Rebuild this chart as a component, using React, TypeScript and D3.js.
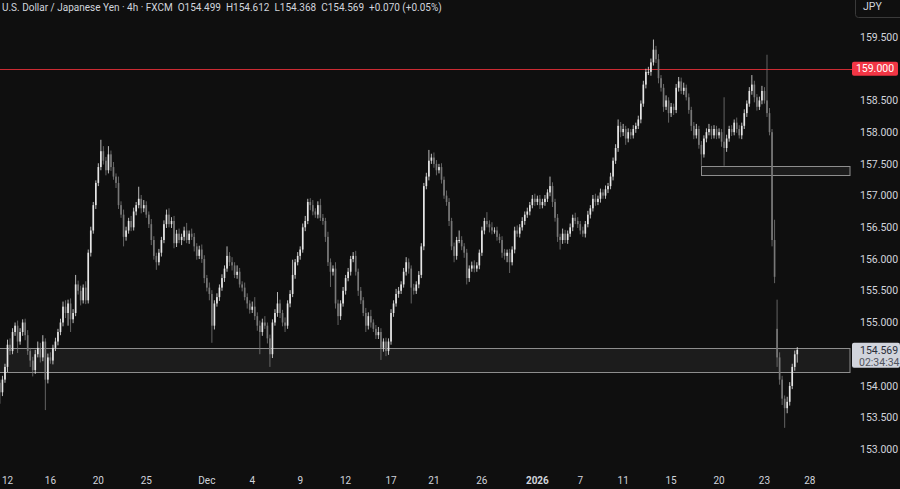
import React, { useEffect, useRef } from 'react';
import * as d3 from 'd3';

// USD/JPY 4h candles (open = previous close unless gapped)
const firstOpen = 154.05;
const gapOpens: Record<number, number> = { 308: 154.9 };

const closes = [
  153.90, 154.10, 154.30, 154.65, 154.55, 154.85, 154.95, 154.70, 154.85, 155.00,
  154.80, 154.55, 154.40, 154.25, 154.50, 154.60, 154.45, 154.70, 154.10, 154.45,
  154.40, 154.60, 154.70, 154.85, 155.00, 155.25, 155.15, 155.30, 155.05, 155.15,
  155.60, 155.50, 155.35, 155.55, 155.35, 156.10, 156.45, 156.85, 157.20, 157.45,
  157.70, 157.55, 157.40, 157.65, 157.45, 157.30, 157.20, 156.85, 156.70, 156.35,
  156.45, 156.60, 156.50, 156.75, 156.85, 156.95, 156.80, 156.85, 156.70, 156.55,
  156.30, 156.05, 155.95, 156.10, 156.30, 156.55, 156.70, 156.55, 156.60, 156.25,
  156.40, 156.30, 156.35, 156.45, 156.30, 156.40, 156.35, 156.20, 156.05, 156.15,
  156.00, 155.70, 155.55, 155.45, 154.95, 155.30, 155.40, 155.55, 155.70, 155.85,
  156.05, 155.95, 155.90, 155.75, 155.80, 155.60, 155.55, 155.40, 155.30, 155.20,
  155.25, 155.10, 154.95, 154.85, 155.00, 154.95, 154.75, 154.50, 155.00, 155.15,
  155.30, 155.15, 155.00, 154.95, 155.30, 155.45, 155.75, 155.95, 156.05, 156.15,
  156.50, 156.60, 156.90, 156.85, 156.75, 156.70, 156.85, 156.65, 156.60, 156.35,
  155.95, 155.80, 155.85, 155.30, 155.10, 155.30, 155.50, 155.70, 155.80, 156.00,
  156.05, 155.80, 155.50, 155.35, 155.15, 154.95, 155.10, 155.00, 154.90, 154.80,
  154.85, 154.60, 154.70, 154.55, 154.70, 155.15, 155.30, 155.45, 155.50, 155.60,
  155.80, 155.95, 155.85, 155.55, 155.50, 155.60, 155.75, 156.20, 157.15, 157.30,
  157.55, 157.60, 157.50, 157.40, 157.45, 157.25, 157.00, 156.90, 156.60, 156.20,
  156.05, 156.30, 156.30, 156.20, 156.10, 155.70, 155.85, 155.90, 155.85, 155.90,
  156.10, 156.45, 156.60, 156.55, 156.50, 156.45, 156.45, 156.35, 156.30, 156.10,
  156.05, 156.10, 155.95, 156.15, 156.45, 156.40, 156.50, 156.60, 156.70, 156.75,
  156.85, 156.95, 156.90, 156.95, 156.85, 156.90, 156.95, 157.05, 157.15, 156.90,
  156.65, 156.35, 156.30, 156.40, 156.30, 156.40, 156.50, 156.65, 156.60, 156.55,
  156.45, 156.40, 156.55, 156.70, 156.80, 156.95, 156.90, 156.95, 157.05, 157.00,
  157.10, 157.15, 157.30, 157.55, 157.75, 158.10, 158.00, 158.05, 157.90, 158.00,
  157.95, 158.05, 158.10, 158.20, 158.45, 158.75, 158.95, 158.95, 159.10, 159.30,
  159.15, 158.85, 158.70, 158.40, 158.50, 158.30, 158.40, 158.35, 158.70, 158.80,
  158.65, 158.70, 158.55, 158.35, 158.10, 157.95, 158.05, 157.80, 157.65, 157.90,
  158.00, 158.05, 157.95, 158.05, 157.95, 158.00, 157.85, 157.75, 157.90, 158.05,
  158.00, 158.15, 158.05, 157.95, 158.10, 158.30, 158.45, 158.65, 158.75, 158.55,
  158.40, 158.50, 158.65, 158.50, 158.30, 158.00, 156.30, 155.72, 154.45, 154.10,
  153.80, 153.65, 153.75, 154.00, 154.30, 154.499, 154.569,
];

// wick lengths above / below the body
const upperWicks = [
  0.05, 0.06, 0.05, 0.08, 0.10, 0.06, 0.05, 0.08, 0.06, 0.05,
  0.06, 0.08, 0.05, 0.06, 0.07, 0.10, 0.08, 0.10, 0.05, 0.06,
  0.08, 0.05, 0.06, 0.05, 0.06, 0.08, 0.10, 0.06, 0.08, 0.06,
  0.15, 0.06, 0.08, 0.05, 0.10, 0.05, 0.06, 0.05, 0.04, 0.06,
  0.18, 0.08, 0.06, 0.13, 0.06, 0.08, 0.05, 0.10, 0.06, 0.08,
  0.06, 0.05, 0.08, 0.06, 0.05, 0.19, 0.06, 0.08, 0.06, 0.05,
  0.08, 0.06, 0.05, 0.06, 0.05, 0.06, 0.08, 0.10, 0.06, 0.08,
  0.06, 0.08, 0.05, 0.06, 0.12, 0.05, 0.08, 0.06, 0.05, 0.06,
  0.08, 0.06, 0.05, 0.08, 0.06, 0.05, 0.06, 0.05, 0.06, 0.05,
  0.15, 0.06, 0.08, 0.05, 0.10, 0.06, 0.05, 0.08, 0.06, 0.05,
  0.08, 0.15, 0.06, 0.08, 0.06, 0.10, 0.05, 0.06, 0.05, 0.06,
  0.18, 0.06, 0.05, 0.08, 0.05, 0.06, 0.24, 0.05, 0.06, 0.05,
  0.06, 0.08, 0.05, 0.06, 0.08, 0.05, 0.06, 0.10, 0.06, 0.05,
  0.08, 0.06, 0.05, 0.10, 0.06, 0.05, 0.06, 0.05, 0.06, 0.05,
  0.06, 0.08, 0.05, 0.06, 0.05, 0.08, 0.06, 0.10, 0.05, 0.06,
  0.08, 0.06, 0.05, 0.06, 0.05, 0.06, 0.05, 0.08, 0.06, 0.05,
  0.06, 0.08, 0.06, 0.05, 0.06, 0.05, 0.06, 0.05, 0.05, 0.06,
  0.17, 0.06, 0.08, 0.06, 0.05, 0.06, 0.05, 0.08, 0.06, 0.05,
  0.06, 0.05, 0.15, 0.06, 0.05, 0.06, 0.05, 0.06, 0.08, 0.05,
  0.05, 0.06, 0.05, 0.14, 0.06, 0.08, 0.05, 0.06, 0.05, 0.06,
  0.06, 0.05, 0.06, 0.05, 0.06, 0.08, 0.05, 0.06, 0.05, 0.06,
  0.05, 0.06, 0.08, 0.05, 0.06, 0.05, 0.06, 0.05, 0.15, 0.06,
  0.05, 0.06, 0.05, 0.08, 0.06, 0.05, 0.06, 0.05, 0.08, 0.06,
  0.05, 0.06, 0.05, 0.06, 0.05, 0.06, 0.08, 0.05, 0.06, 0.05,
  0.06, 0.05, 0.06, 0.05, 0.06, 0.10, 0.06, 0.08, 0.05, 0.06,
  0.05, 0.06, 0.05, 0.06, 0.05, 0.06, 0.05, 0.08, 0.06, 0.16,
  0.06, 0.08, 0.05, 0.06, 0.08, 0.05, 0.06, 0.05, 0.06, 0.07,
  0.06, 0.08, 0.05, 0.06, 0.05, 0.06, 0.08, 0.05, 0.06, 0.05,
  0.06, 0.08, 0.05, 0.06, 0.05, 0.06, 0.05, 0.70, 0.06, 0.05,
  0.06, 0.05, 0.08, 0.06, 0.05, 0.06, 0.05, 0.06, 0.15, 0.06,
  0.05, 0.06, 0.08, 0.06, 0.72, 0.08, 0.05, 0.32, 0.46, 0.08,
  0.06, 0.05, 0.08, 0.06, 0.05, 0.06, 0.043,
];

const lowerWicks = [
  0.18, 0.06, 0.05, 0.08, 0.06, 0.05, 0.06, 0.18, 0.05, 0.06,
  0.08, 0.06, 0.10, 0.10, 0.06, 0.05, 0.08, 0.06, 0.48, 0.06,
  0.05, 0.06, 0.05, 0.06, 0.05, 0.06, 0.08, 0.20, 0.20, 0.06,
  0.05, 0.06, 0.08, 0.05, 0.06, 0.05, 0.06, 0.05, 0.06, 0.05,
  0.05, 0.06, 0.08, 0.05, 0.06, 0.05, 0.08, 0.06, 0.05, 0.15,
  0.06, 0.05, 0.06, 0.05, 0.06, 0.05, 0.08, 0.06, 0.05, 0.06,
  0.08, 0.06, 0.12, 0.05, 0.06, 0.05, 0.06, 0.05, 0.06, 0.08,
  0.06, 0.05, 0.08, 0.06, 0.05, 0.06, 0.05, 0.08, 0.06, 0.05,
  0.06, 0.08, 0.06, 0.10, 0.27, 0.06, 0.05, 0.06, 0.05, 0.06,
  0.05, 0.06, 0.08, 0.05, 0.06, 0.05, 0.06, 0.05, 0.08, 0.06,
  0.05, 0.06, 0.08, 0.35, 0.06, 0.05, 0.08, 0.20, 0.06, 0.05,
  0.06, 0.08, 0.06, 0.10, 0.05, 0.06, 0.05, 0.06, 0.05, 0.06,
  0.05, 0.06, 0.05, 0.08, 0.06, 0.05, 0.06, 0.05, 0.06, 0.08,
  0.06, 0.24, 0.06, 0.08, 0.14, 0.06, 0.05, 0.06, 0.05, 0.06,
  0.05, 0.06, 0.08, 0.06, 0.05, 0.10, 0.06, 0.08, 0.05, 0.06,
  0.06, 0.19, 0.06, 0.08, 0.06, 0.05, 0.06, 0.05, 0.06, 0.05,
  0.05, 0.06, 0.08, 0.25, 0.06, 0.05, 0.06, 0.05, 0.06, 0.05,
  0.06, 0.05, 0.06, 0.08, 0.05, 0.06, 0.05, 0.06, 0.08, 0.06,
  0.10, 0.06, 0.05, 0.06, 0.08, 0.10, 0.06, 0.05, 0.06, 0.05,
  0.06, 0.05, 0.06, 0.05, 0.08, 0.06, 0.05, 0.06, 0.05, 0.08,
  0.06, 0.10, 0.17, 0.05, 0.06, 0.05, 0.06, 0.05, 0.06, 0.05,
  0.06, 0.05, 0.06, 0.05, 0.06, 0.05, 0.06, 0.05, 0.06, 0.08,
  0.06, 0.08, 0.15, 0.06, 0.05, 0.06, 0.05, 0.06, 0.05, 0.06,
  0.06, 0.05, 0.06, 0.05, 0.06, 0.05, 0.06, 0.05, 0.06, 0.05,
  0.05, 0.06, 0.05, 0.06, 0.05, 0.06, 0.08, 0.06, 0.10, 0.06,
  0.06, 0.05, 0.06, 0.05, 0.06, 0.05, 0.06, 0.05, 0.06, 0.05,
  0.06, 0.08, 0.06, 0.08, 0.05, 0.15, 0.06, 0.08, 0.05, 0.06,
  0.05, 0.06, 0.05, 0.06, 0.08, 0.06, 0.05, 0.06, 0.18, 0.05,
  0.06, 0.05, 0.06, 0.05, 0.06, 0.05, 0.08, 0.28, 0.06, 0.05,
  0.06, 0.05, 0.06, 0.05, 0.06, 0.05, 0.06, 0.05, 0.06, 0.08,
  0.06, 0.05, 0.06, 0.05, 0.06, 0.05, 0.10, 0.10, 0.15, 0.08,
  0.10, 0.31, 0.08, 0.06, 0.05, 0.06, 0.131,
];

// date labels on the time axis and the candle slot they sit on
const dateLabels = ['12', '16', '20', '25', 'Dec', '4', '9', '12', '17', '21', '26', '2026', '7', '11', '15', '20', '23', '28'];
const dateSlots = [3, 20, 39, 58, 82, 100, 119, 137, 155, 172, 191, 213, 230, 247, 266, 285, 303, 321];

const priceTicks = [153.0, 153.5, 154.0, 154.5, 155.0, 155.5, 156.0, 156.5, 157.0, 157.5, 158.0, 158.5, 159.0, 159.5];

const resistanceLevel = 159.0;
const supportZone = [154.22, 154.6];
const demandZone = [157.33, 157.47];
const demandZoneStart = 278;

const lastClose = 154.569;
const countdown = '02:34:34';

export default function App() {
  const ref = useRef<SVGSVGElement>(null);

  useEffect(() => {
    if (!ref.current) return;
    const svg = d3.select(ref.current);
    svg.selectAll('*').remove();

    const width = 900;
    const height = 489;
    const plotRight = 850;
    const font = 'Roboto, "Trebuchet MS", sans-serif';
    const textColor = '#d1d4dc';

    const candles = closes.map((c, i) => {
      const o = gapOpens[i] ?? (i === 0 ? firstOpen : closes[i - 1]);
      return {
        i,
        o,
        c,
        h: Math.max(o, c) + upperWicks[i],
        l: Math.min(o, c) - lowerWicks[i],
      };
    });

    const slots = 337;
    const x = d3.scaleBand<number>()
      .domain(d3.range(slots))
      .range([-1.33, plotRight - 1])
      .paddingInner(0.35)
      .paddingOuter(0.175);

    const y = d3.scaleLinear()
      .domain([153, 159.5])
      .range([449.4, 37]);

    svg.append('rect')
      .attr('width', width)
      .attr('height', height)
      .attr('fill', '#0f0f0f');

    const plot = svg.append('g');

    // support zone across the whole chart
    plot.append('rect')
      .attr('x', -1)
      .attr('y', Math.round(y(supportZone[1])) + 0.5)
      .attr('width', plotRight + 1)
      .attr('height', Math.round(y(supportZone[0]) - y(supportZone[1])))
      .attr('fill', '#1c1c1c')
      .attr('stroke', '#8e8e8e')
      .attr('stroke-width', 1);

    // smaller zone to the right
    const zx = Math.round(x(demandZoneStart)! + x.bandwidth() / 2) + 0.5;
    plot.append('rect')
      .attr('x', zx)
      .attr('y', Math.round(y(demandZone[1])) + 0.5)
      .attr('width', plotRight - zx)
      .attr('height', Math.round(y(demandZone[0]) - y(demandZone[1])))
      .attr('fill', '#1c1c1c')
      .attr('stroke', '#8e8e8e')
      .attr('stroke-width', 1);

    // 159.000 line
    plot.append('rect')
      .attr('class', 'level')
      .attr('x', 0)
      .attr('y', Math.round(y(resistanceLevel)))
      .attr('width', 852)
      .attr('height', 1)
      .attr('fill', '#cc2b33');

    const upColor = '#e6e6e6';
    const downColor = '#787878';

    plot.selectAll('.wick')
      .data(candles)
      .enter()
      .append('line')
      .attr('class', 'wick')
      .attr('x1', d => x(d.i)! + x.bandwidth() / 2)
      .attr('x2', d => x(d.i)! + x.bandwidth() / 2)
      .attr('y1', d => y(d.h))
      .attr('y2', d => y(d.l))
      .attr('stroke', d => (d.c >= d.o ? upColor : downColor))
      .attr('stroke-width', 0.8);

    plot.selectAll('.body')
      .data(candles)
      .enter()
      .append('rect')
      .attr('class', 'body')
      .attr('x', d => x(d.i)!)
      .attr('width', x.bandwidth())
      .attr('y', d => y(Math.max(d.o, d.c)))
      .attr('height', d => Math.max(1, Math.abs(y(d.o) - y(d.c))))
      .attr('fill', d => (d.c >= d.o ? upColor : downColor));

    // price scale
    const labelRows = [y(resistanceLevel), y(lastClose) + 6];
    const axis = svg.append('g').attr('font-family', font).attr('font-size', 10.5);
    axis.selectAll('.tick')
      .data(priceTicks.filter(t => labelRows.every(r => Math.abs(y(t) - r) > 12)))
      .enter()
      .append('text')
      .attr('x', 860)
      .attr('y', d => y(d))
      .attr('dy', '0.35em')
      .attr('fill', textColor)
      .text(d => d.toFixed(3));

    // 159.000 label
    axis.append('rect')
      .attr('x', 852)
      .attr('y', y(resistanceLevel) - 7)
      .attr('width', 46)
      .attr('height', 14)
      .attr('rx', 2)
      .attr('fill', '#f23645');
    axis.append('text')
      .attr('x', 875)
      .attr('y', y(resistanceLevel))
      .attr('dy', '0.35em')
      .attr('text-anchor', 'middle')
      .attr('fill', '#ffffff')
      .text(resistanceLevel.toFixed(3));

    // last price label with countdown
    axis.append('rect')
      .attr('x', 852)
      .attr('y', y(lastClose) - 7)
      .attr('width', 48)
      .attr('height', 25)
      .attr('rx', 2)
      .attr('fill', '#d1d4dc');
    axis.append('text')
      .attr('x', 860)
      .attr('y', y(lastClose))
      .attr('dy', '0.35em')
      .attr('fill', '#2a2e39')
      .text(lastClose.toFixed(3));
    axis.append('text')
      .attr('x', 859)
      .attr('y', y(lastClose) + 12)
      .attr('dy', '0.35em')
      .attr('fill', '#50535e')
      .text(countdown);

    // currency box
    axis.append('rect')
      .attr('x', 855.5)
      .attr('y', -4)
      .attr('width', 50)
      .attr('height', 21.5)
      .attr('rx', 3)
      .attr('fill', '#0f0f0f')
      .attr('stroke', '#3a3a3a');
    axis.append('text')
      .attr('x', 863)
      .attr('y', 9)
      .attr('dy', '0.1em')
      .attr('fill', textColor)
      .text('JPY');

    // time scale
    const timeAxis = svg.append('g').attr('font-family', font).attr('font-size', 10);
    timeAxis.selectAll('text')
      .data(dateLabels.map((label, k) => ({ label, slot: dateSlots[k] })))
      .enter()
      .append('text')
      .attr('x', d => x(d.slot)! + x.bandwidth() / 2)
      .attr('y', 480)
      .attr('dy', '0.35em')
      .attr('text-anchor', 'middle')
      .attr('font-weight', d => (d.label === '2026' ? 700 : 400))
      .attr('fill', textColor)
      .text(d => d.label);

    // legend line
    const last = candles[candles.length - 1];
    const prev = candles[candles.length - 2];
    const change = last.c - prev.c;
    const legend = svg.append('text')
      .attr('x', 2)
      .attr('y', 11)
      .attr('font-family', font)
      .attr('font-size', 10)
      .attr('fill', textColor);
    legend.append('tspan').text('U.S. Dollar / Japanese Yen · 4h · FXCM');
    legend.append('tspan').attr('dx', 5).text(`O${last.o.toFixed(3)}`);
    legend.append('tspan').attr('dx', 5).text(`H${last.h.toFixed(3)}`);
    legend.append('tspan').attr('dx', 5).text(`L${last.l.toFixed(3)}`);
    legend.append('tspan').attr('dx', 5).text(`C${last.c.toFixed(3)}`);
    legend.append('tspan').attr('dx', 5)
      .text(`+${change.toFixed(3)} (+${((change / prev.c) * 100).toFixed(2)}%)`);
  }, []);

  return (
    <svg
      ref={ref}
      width={900}
      height={489}
      style={{ position: 'fixed', left: 0, top: 0, display: 'block' }}
    />
  );
}
